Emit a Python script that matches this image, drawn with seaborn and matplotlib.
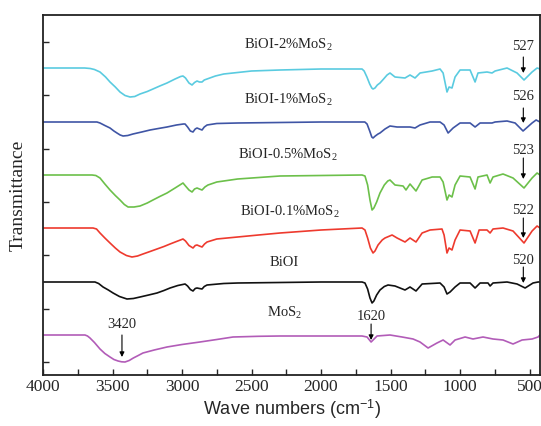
import numpy as np
import pandas as pd
import matplotlib
matplotlib.use("Agg")
import matplotlib.pyplot as plt
import seaborn as sns

# ---------------- data ----------------
samples = ["BiOI-2%MoS2", "BiOI-1%MoS2", "BiOI-0.5%MoS2", "BiOI-0.1%MoS2", "BiOI", "MoS2"]
sample_labels = ["BiOI-2%MoS$_2$", "BiOI-1%MoS$_2$", "BiOI-0.5%MoS$_2$",
                 "BiOI-0.1%MoS$_2$", "BiOI", "MoS$_2$"]
colors = ["#5ACBE0", "#3F55A5", "#6CC04A", "#EE3A2E", "#111111", "#B25CB8"]

wn_2 = [4000, 3700, 3660, 3630, 3590, 3550, 3518, 3480, 3446, 3410, 3374, 3340, 3302, 3250,
        3209, 3160, 3108, 3050, 3010, 2993, 2975, 2950, 2928, 2910, 2892, 2875, 2856, 2840,
        2820, 2760, 2700, 2600, 2500, 2295, 2000, 1705, 1690, 1670, 1650, 1635, 1626, 1612,
        1595, 1576, 1550, 1525, 1504, 1468, 1396, 1360, 1324, 1288, 1201, 1144, 1122, 1094,
        1079, 1058, 1036, 1000, 928, 892, 871, 806, 770, 748, 662, 590, 540, 482, 446, 425]
t_2 = [307, 307, 306.5, 305.5, 303, 298, 293, 288, 283, 279.5, 278, 278.5, 281, 283.5,
       286, 289, 292, 296, 298.5, 299, 297, 292, 290, 292.5, 294, 293, 293, 295,
       296, 299, 301, 302.5, 304, 305, 306, 306, 304, 298, 291, 287, 286, 287,
       290, 292, 296, 300, 302, 298, 297, 300, 297, 302, 304, 306, 302, 283,
       288, 287, 298, 305, 305, 293, 302, 303, 302, 304, 307, 302, 295, 303, 307, 306]

wn_1 = [4000, 3612, 3590, 3555, 3518, 3490, 3468, 3445, 3424, 3390, 3353, 3290, 3230, 3170,
        3108, 3040, 2990, 2978, 2960, 2940, 2921, 2905, 2892, 2875, 2856, 2840, 2820, 2750,
        2600, 2000, 1705, 1685, 1669, 1650, 1635, 1626, 1610, 1590, 1576, 1540, 1504, 1453,
        1396, 1360, 1324, 1288, 1216, 1144, 1115, 1086, 1050, 1000, 928, 892, 856, 770, 748,
        662, 604, 547, 482, 453, 425]
t_1 = [253, 253, 252, 249.5, 247, 244, 242, 240, 239, 239.5, 241, 243, 245, 246.5,
       248, 250, 251, 251, 248, 244, 243, 246, 247, 246, 245, 248, 250, 251.5,
       252, 253, 253, 253, 251, 244, 238, 237, 239, 241, 242, 246, 249, 248,
       248, 248, 247, 250, 253, 253, 250, 242, 247, 252, 252, 248, 252, 252, 253,
       254, 252, 244, 252, 255, 253]

wn_05 = [4000, 3647, 3620, 3590, 3555, 3518, 3480, 3446, 3415, 3388, 3345, 3302, 3250, 3209,
         3160, 3108, 3050, 3010, 2993, 2975, 2950, 2928, 2910, 2892, 2875, 2856, 2835, 2813,
         2750, 2600, 2295, 1705, 1684, 1665, 1648, 1633, 1620, 1600, 1576, 1545, 1520, 1504,
         1468, 1410, 1389, 1360, 1317, 1273, 1201, 1144, 1122, 1094, 1079, 1058, 1036, 1000,
         928, 892, 871, 806, 784, 763, 691, 619, 540, 482, 446, 425]
t_05 = [200, 200, 199.5, 197, 191, 185, 179.5, 175, 170.5, 168, 168, 169, 172, 175,
        178.5, 182, 187, 190.5, 192, 189, 185, 183, 186, 187, 186, 185, 188, 190,
        193, 196, 199, 200, 199, 190, 175, 165, 167, 173, 182, 190, 194, 195,
        190, 189, 185, 191, 184, 195, 198, 198, 193, 175, 180, 178, 190, 199,
        198, 186, 198, 200, 192, 198, 201, 197, 187, 197, 202, 200]

wn_01 = [4000, 3640, 3615, 3590, 3555, 3518, 3480, 3446, 3400, 3360, 3320, 3281, 3230, 3180,
         3130, 3086, 3040, 2993, 2975, 2950, 2921, 2905, 2892, 2875, 2856, 2838, 2820, 2750,
         2600, 2450, 2295, 2000, 1705, 1684, 1665, 1645, 1626, 1612, 1590, 1560, 1540, 1489,
         1453, 1396, 1360, 1317, 1273, 1216, 1130, 1115, 1094, 1079, 1058, 1036, 1000, 928,
         892, 863, 806, 784, 763, 691, 619, 540, 482, 446, 425]
t_01 = [147, 147, 146, 142, 137, 132, 127, 123, 119.5, 118, 119, 121, 123.5, 126,
        128.5, 131, 133.5, 136, 134, 129.5, 127, 129.5, 130, 129, 128, 131, 133, 136,
        138, 140, 142, 145, 147, 145, 137, 127, 122, 124, 130, 135, 137, 140,
        137, 133, 137, 133, 142, 145, 146, 140, 122, 127, 125, 135, 145, 144,
        132, 145, 145, 142, 146, 147, 144, 132, 144, 149, 147]

wn_biOI = [4000, 3626, 3600, 3568, 3530, 3496, 3450, 3396, 3350, 3302, 3240, 3180, 3130, 3086,
           3030, 2978, 2960, 2940, 2921, 2905, 2892, 2875, 2856, 2840, 2820, 2700, 2600, 2000,
           1705, 1684, 1665, 1648, 1633, 1620, 1600, 1576, 1545, 1518, 1468, 1396, 1360, 1317,
           1273, 1144, 1115, 1094, 1072, 1036, 1000, 928, 892, 856, 799, 784, 763, 662, 590,
           532, 475, 439, 425]
t_biOI = [93, 93, 91.5, 88, 85, 82, 78.5, 76, 76.5, 78, 80, 82, 84.5, 87,
          89.5, 91, 89, 85.5, 84, 86.5, 87, 86.5, 86, 88.5, 90, 91.5, 92, 93,
          93, 92, 86, 77, 72, 74, 80, 85, 88.5, 90, 89, 85, 88, 84,
          91, 92, 88, 81, 83, 88, 92, 92, 87, 92, 92, 89, 92, 93, 91,
          87, 92, 93, 93]

wn_mos2 = [4000, 3698, 3680, 3662, 3630, 3590, 3555, 3518, 3490, 3460, 3435, 3410, 3380, 3350,
           3315, 3281, 3200, 3108, 3000, 2871, 2750, 2633, 2450, 2295, 2000, 1705, 1669, 1640,
           1597, 1504, 1417, 1338, 1288, 1230, 1166, 1122, 1072, 1036, 964, 907, 835, 763,
           691, 619, 554, 482, 439, 425]
t_mos2 = [40, 40, 39, 37, 32.5, 26, 21.5, 18, 15.5, 14, 13.2, 13, 14.5, 17,
          19.5, 22, 25, 28, 30.5, 33, 35.5, 38, 38.7, 39, 39, 39, 38, 33,
          39, 40, 38, 36, 33, 27, 32, 35, 30, 35, 38, 36, 38, 36,
          35, 31, 35, 36, 38, 40]

peak_labels = ["527", "526", "523", "522", "520", "1620", "3420"]

wavenumbers = [wn_2, wn_1, wn_05, wn_01, wn_biOI, wn_mos2]
transmittance = [t_2, t_1, t_05, t_01, t_biOI, t_mos2]

df = pd.concat([pd.DataFrame({"wn": w, "T": t, "sample": s})
                for w, t, s in zip(wavenumbers, transmittance, samples)], ignore_index=True)

# ---------------- figure ----------------
sns.set_style("ticks")
plt.rcParams["font.family"] = ["Liberation Serif", "DejaVu Serif"]
plt.rcParams["mathtext.fontset"] = "custom"
plt.rcParams["mathtext.rm"] = "Liberation Serif"
plt.rcParams["mathtext.it"] = "Liberation Serif:italic"
plt.rcParams["mathtext.sf"] = "Liberation Sans"

fig = plt.figure(figsize=(5.41, 4.26), dpi=100)
ax = fig.add_axes([43 / 541, 51 / 426, 497 / 541, 360 / 426])

sns.lineplot(data=df, x="wn", y="T", hue="sample", palette=dict(zip(samples, colors)),
             estimator=None, sort=False, lw=1.2, legend=False, ax=ax)
for ln in ax.get_lines():
    ln.set_solid_joinstyle("round")

ax.set_xlim(4000, 425)
ax.set_ylim(0, 360)
ax.set_xticks(np.arange(4000, 499, -500))
ax.set_xticks(np.arange(3750, 499, -500), minor=True)
ax.set_yticks(np.arange(13, 360, 53.33))
ax.set_yticklabels([])
ax.tick_params(axis="both", which="both", direction="in", length=4.5, width=1.0,
               top=False, right=False)
ax.tick_params(axis="x", labelsize=12.5, pad=3)
for sp in ax.spines.values():
    sp.set_linewidth(1.3)
    sp.set_color("#222222")

ax.set_xlabel("Wave numbers (cm$^{\\mathsf{-1}}$)", family="Liberation Sans", fontsize=13,
              labelpad=2)
ax.set_ylabel("Transmittance", fontsize=14, labelpad=8)

# sample labels
label_pos = [(2237, 330), (2237, 275), (2237, 220), (2223, 163), (2266, 113), (2266, 62)]
for (x, y), lab in zip(label_pos, sample_labels):
    ax.text(x, y, lab, ha="center", va="center", fontsize=10.5)

# peak annotations
peak_pos = [(545, 328, 318, 302), (545, 278, 267, 252), (545, 225, 217, 196),
            (545, 165, 157, 137), (545, 115, 108, 92), (1640, 59, 51, 35),
            (3432, 50, 40, 18)]
for (x, ty, a0, a1), lab in zip(peak_pos, peak_labels):
    ax.text(x, ty, lab, ha="center", va="center", fontsize=10.5)
    ax.annotate("", xy=(x, a1), xytext=(x, a0),
                arrowprops=dict(arrowstyle="-|>", color="black", lw=0.8,
                                mutation_scale=7, shrinkA=0, shrinkB=0))

fig.savefig("out.png", dpi=100)
